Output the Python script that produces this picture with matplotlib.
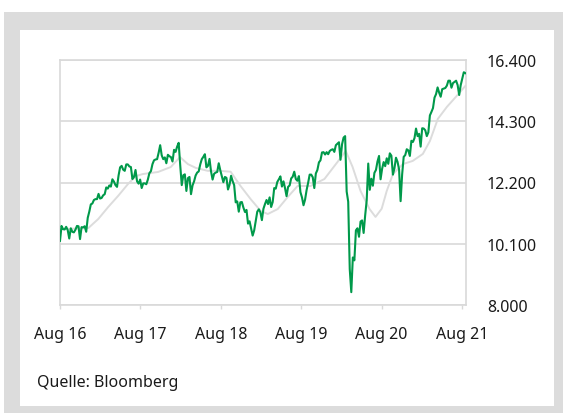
import matplotlib
matplotlib.use('Agg')
import matplotlib.pyplot as plt
from matplotlib.patches import Rectangle
from matplotlib.ticker import FuncFormatter
import pandas as pd

# Wochenschlusskurse, jeweils montags ab 01.08.2016
kurs_2016 = [10200, 10710, 10600, 10590, 10680, 10570, 10280, 10630, 10510, 10490, 10580,
             10710, 10700, 10260, 10670, 10660, 10700, 10510, 10990, 11200, 11450, 11480]
kurs_2017 = [11600, 11630, 11630, 11810, 11650, 11670, 11760, 11800, 12030, 11990, 12100,
             12060, 12310, 12230, 12110, 12050, 12440, 12720, 12770, 12640, 12600, 12820,
             12820, 12750, 12730, 12320, 12390, 12630, 12240, 12160, 12300, 12010, 12170,
             12170, 12140, 12300, 12520, 12590, 12830, 12960, 12990, 13000, 13220, 13480,
             13130, 13000, 13060, 12860, 13150, 13100, 13070, 12920]
kurs_2018 = [13320, 13250, 13430, 13560, 12790, 12110, 12450, 12480, 11910, 12350, 12390,
             11800, 12100, 12240, 12440, 12540, 12580, 12820, 13000, 13080, 13170, 12720,
             12770, 13010, 12580, 12300, 12500, 12540, 12560, 12860, 12620, 12420, 12210,
             12390, 12360, 11960, 12120, 12430, 12250, 12110, 11520, 11550, 11200, 11520,
             11530, 11340, 11190, 11260, 10790, 10870, 10630, 10380, 10560]
kurs_2019 = [10890, 11200, 11280, 11180, 10910, 11300, 11460, 11600, 11460, 11690, 11360,
             11530, 12010, 11990, 12220, 12310, 12410, 12060, 12240, 12010, 11730, 12050,
             12100, 12340, 12400, 12570, 12320, 12260, 12420, 11870, 11690, 11420, 11610,
             11940, 12190, 12470, 12470, 12380, 12010, 12510, 12630, 12890, 12960, 13230,
             13240, 13160, 13240, 13170, 13280, 13320, 13340, 13250]
kurs_2020 = [13480, 13530, 13580, 12980, 13510, 13740, 13790, 11890, 11540, 9230, 8440,
             9630, 9530, 10560, 10630, 10340, 10860, 10900, 10470, 11070, 11590, 12850,
             11950, 12330, 12090, 12530, 12630, 12920, 13110, 12310, 12670, 12900, 12760,
             13030, 12840, 13200, 13120, 12470, 12690, 13050, 12910, 12650, 11560, 12480,
             13080, 13140, 13340, 13300, 13110, 13630, 13590, 13720]
kurs_2021 = [14050, 13790, 13870, 13430, 14060, 14050, 13990, 13790, 13920, 14500, 14620,
             14750, 15110, 15230, 15460, 15280, 15140, 15400, 15420, 15440, 15520, 15690,
             15690, 15450, 15610, 15650, 15690, 15540, 15200, 15540, 15760, 15980, 15950]

# gleitender Durchschnitt (grau)
ma_daten = ['2016-08-01', '2016-12-08', '2017-01-22', '2017-03-08', '2017-04-22', '2017-06-06',
            '2017-07-12', '2017-08-12', '2017-10-20', '2017-12-17', '2018-01-28', '2018-03-05',
            '2018-04-10', '2018-06-03', '2018-07-28', '2018-09-15', '2018-10-30', '2018-12-15',
            '2019-01-30', '2019-03-03', '2019-04-17', '2019-06-01', '2019-07-16', '2019-09-13',
            '2019-11-15', '2020-01-13', '2020-02-20', '2020-03-22', '2020-04-27', '2020-06-07',
            '2020-07-04', '2020-08-01', '2020-08-24', '2020-09-21', '2020-11-05', '2020-12-20',
            '2021-02-04', '2021-03-08', '2021-04-13', '2021-05-24', '2021-07-08', '2021-08-16']
ma_werte = [10600, 10640, 10950, 11360, 11740, 12150, 12420, 12490, 12560, 12730, 13070, 12830,
            12700, 12600, 12600, 12570, 12080, 11630, 11220, 11120, 11290, 11700, 12080, 12080,
            12320, 12900, 13280, 12730, 11910, 11290, 11020, 11300, 11910, 12490, 12830, 12940,
            13180, 13620, 14380, 14790, 15170, 15510]

y_ticks = [8000, 10100, 12200, 14300, 16400]
x_ticks = ['2016-08-01', '2017-08-01', '2018-08-01', '2019-08-01', '2020-08-01', '2021-08-01']
x_labels = ['Aug 16', 'Aug 17', 'Aug 18', 'Aug 19', 'Aug 20', 'Aug 21']

kurs = kurs_2016 + kurs_2017 + kurs_2018 + kurs_2019 + kurs_2020 + kurs_2021
daten = pd.date_range('2016-08-01', periods=len(kurs), freq='W-MON')

plt.rcParams['font.family'] = ['Noto Sans', 'DejaVu Sans']
GRUEN = '#00994a'
GRAU_MA = '#dcdcdc'
GRID = '#d9d9d9'
TXT = '#1a1a1a'

W, H = 563, 414
fig = plt.figure(figsize=(W / 100, H / 100), dpi=100)
fig.patch.set_facecolor('white')

# grauer Rahmen
fig.patches.append(Rectangle((4 / W, 0), 1 - 4 / W, 1 - 13 / H, transform=fig.transFigure,
                             facecolor='#dcdcdc', edgecolor='none', zorder=-10))
fig.patches.append(Rectangle((20 / W, 1 - 407 / H), (554 - 20) / W, (407 - 31) / H,
                             transform=fig.transFigure, facecolor='white', edgecolor='none', zorder=-9))

ax = fig.add_axes([60 / W, 1 - 306 / H, (466 - 60) / W, (306 - 61) / H])
ax.set_zorder(5)
ax.set_facecolor('white')
ax.plot(pd.to_datetime(ma_daten), ma_werte, color=GRAU_MA, lw=1.4, zorder=2)
ax.plot(daten, kurs, color=GRUEN, lw=1.5, zorder=3)

ax.set_ylim(8000, 16400)
ax.set_xlim(pd.Timestamp('2016-08-01'), pd.Timestamp('2021-08-19'))
ax.set_yticks(y_ticks)
ax.yaxis.set_major_formatter(FuncFormatter(lambda v, p: f'{int(v):,}'.replace(',', '.')))
ax.yaxis.tick_right()
ax.tick_params(axis='y', length=0, pad=15, labelsize=11.5, labelcolor=TXT)
ax.set_xticks(pd.to_datetime(x_ticks))
ax.set_xticklabels(x_labels)
ax.tick_params(axis='x', length=3, width=1, color=GRID, pad=12, labelsize=11.5, labelcolor=TXT)
for lbl in ax.get_yticklabels():
    lbl.set_horizontalalignment('left')
ax.grid(axis='y', color=GRID, lw=1.2)
for s in ax.spines.values():
    s.set_color(GRID)
    s.set_linewidth(1.2)

fig.text(37 / W, 1 - 387 / H, 'Quelle: Bloomberg', fontsize=11.5, color=TXT, ha='left', va='baseline')

fig.savefig('out.png', dpi=100)
